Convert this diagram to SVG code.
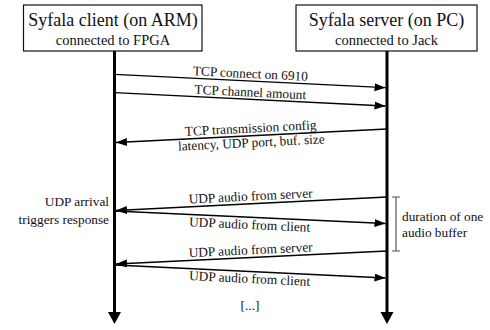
<svg xmlns="http://www.w3.org/2000/svg" width="490" height="330" viewBox="0 0 490 330">
<style>
text{font-family:"Liberation Serif","DejaVu Serif",serif;fill:#111}
.title{font-size:18px;text-anchor:middle}
.sub{font-size:14.5px;text-anchor:middle}
.lbl{font-size:13.3px;text-anchor:middle}
.note{font-size:13.3px}
.box{fill:#fff;stroke:#111;stroke-width:1.2}
.life{stroke:#000;stroke-width:3;fill:none}
.msg{stroke:#000;stroke-width:1.3;fill:none;marker-end:url(#ah)}
.brk{stroke:#555;stroke-width:1.2;fill:none}
</style>
<defs>
<marker id="ah" markerUnits="userSpaceOnUse" markerWidth="12" markerHeight="10" refX="11" refY="4" orient="auto">
<path d="M0,0 L11,4 L0,8 Z" fill="#000"/>
</marker>
<marker id="lh" markerUnits="userSpaceOnUse" markerWidth="14" markerHeight="14" refX="0" refY="6.5" orient="auto">
<path d="M0,0 L12,6.5 L0,13 Z" fill="#000"/>
</marker>
</defs>
<g id="lifelines">
<line class="life" x1="114.5" y1="51" x2="114.5" y2="312" marker-end="url(#lh)"/>
<line class="life" x1="387" y1="51" x2="387" y2="312" marker-end="url(#lh)"/>
</g>
<g id="client">
<rect class="box" x="23.5" y="5" width="178.5" height="46"/>
<text class="title" x="113" y="26">Syfala client (on ARM)</text>
<text class="sub" x="113" y="45">connected to FPGA</text>
</g>
<g id="server">
<rect class="box" x="296" y="5" width="181" height="46"/>
<text class="title" x="386.5" y="26">Syfala server (on PC)</text>
<text class="sub" x="386.5" y="45">connected to Jack</text>
</g>
<g id="connectors">
<line class="msg" x1="114.5" y1="74.3" x2="385.5" y2="87.7"/>
<line class="msg" x1="114.5" y1="92.7" x2="385.5" y2="106"/>
<line class="msg" x1="387" y1="129" x2="116" y2="142.5"/>
<line class="msg" x1="387" y1="197" x2="116" y2="210.5"/>
<line class="msg" x1="114.5" y1="211" x2="385.5" y2="223.5"/>
<line class="msg" x1="387" y1="251" x2="116" y2="264"/>
<line class="msg" x1="114.5" y1="265" x2="385.5" y2="278"/>
</g>
<g id="labels">
<text class="lbl" x="250" y="78" transform="rotate(2.83 250 81)">TCP connect on 6910</text>
<text class="lbl" x="250" y="96.5" transform="rotate(2.81 250 99.4)">TCP channel amount</text>
<text class="lbl" x="251" y="132.5" transform="rotate(-2.85 251 135.8)">TCP transmission config</text>
<text class="lbl" x="251" y="147" transform="rotate(-2.85 251 135.8)">latency, UDP port, buf. size</text>
<text class="lbl" x="251" y="200.5" transform="rotate(-2.85 251 203.8)">UDP audio from server</text>
<text class="lbl" x="250" y="229" transform="rotate(2.64 250 217.2)">UDP audio from client</text>
<text class="lbl" x="251" y="254.3" transform="rotate(-2.75 251 257.5)">UDP audio from server</text>
<text class="lbl" x="250" y="283" transform="rotate(2.75 250 271.5)">UDP audio from client</text>
<text class="lbl" x="250" y="310">[...]</text>
</g>
<g id="annotations">
<text class="note" x="109" y="206" text-anchor="end">UDP arrival</text>
<text class="note" x="109" y="224" text-anchor="end">triggers response</text>
<path class="brk" d="M392,197 H400 M396,197 V251 M392,251 H400"/>
<text class="note" x="402" y="220.5">duration of one</text>
<text class="note" x="402" y="236.5">audio buffer</text>
</g>
</svg>
